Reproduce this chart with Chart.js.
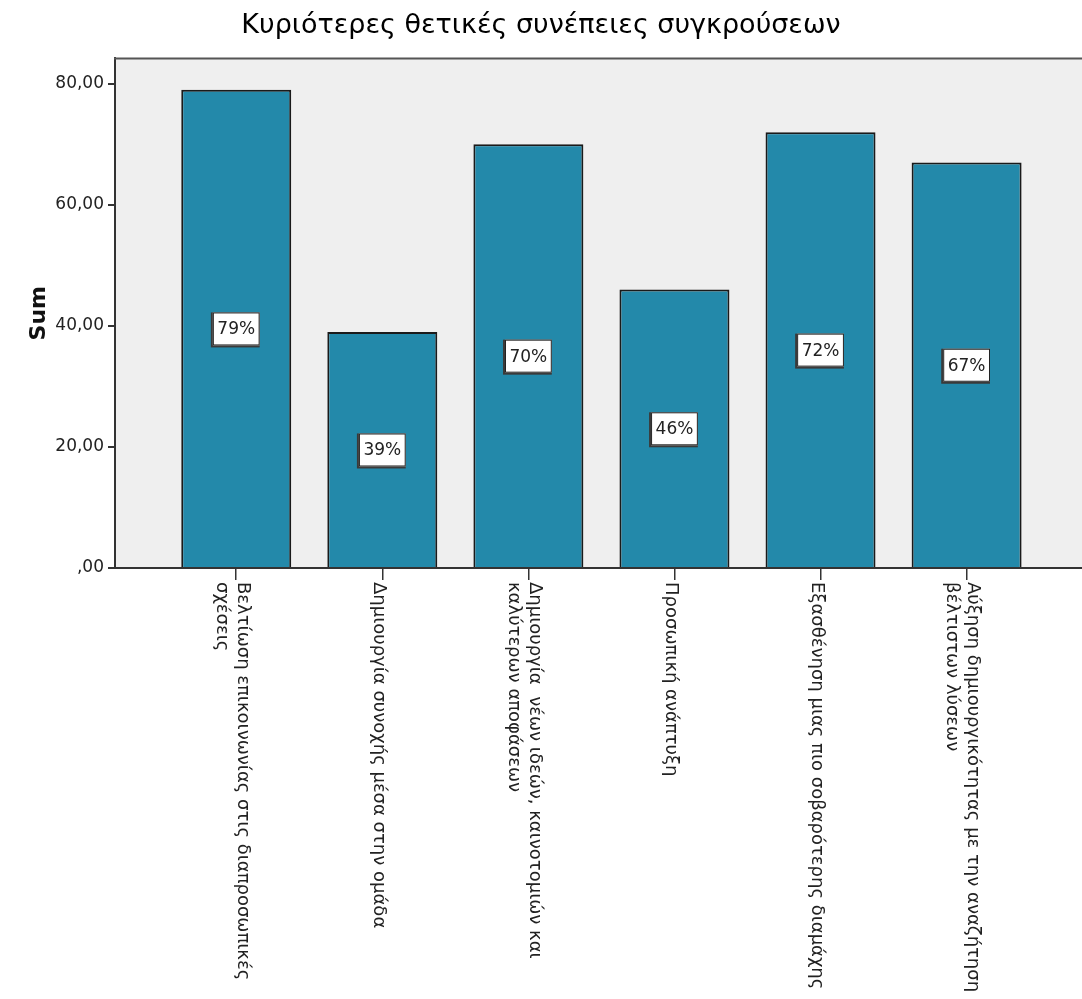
<!DOCTYPE html>
<html>
<head>
<meta charset="utf-8">
<title>Κυριότερες θετικές συνέπειες συγκρούσεων</title>
<script src="https://cdn.jsdelivr.net/npm/chart.js@4/dist/chart.umd.min.js"></script>
<style>
  html, body { margin: 0; padding: 0; background: #fff; }
</style>
</head>
<body>
<canvas id="effects-chart" width="1082" height="999"></canvas>
<script>
// each category is split into the lines it is printed on
const categories = [
  ["Βελτίωση επικοινωνίας στις διαπροσωπικές", "σχέσεις"],
  ["Δημιουργία συνοχής μέσα στην ομάδα"],
  ["Δημιουργία  νέων ιδεών, καινοτομιών και", "καλύτερων αποφάσεων"],
  ["Προσωπική ανάπτυξη"],
  ["Εξασθένηση μιας πιο σοβαρότερης διαμάχης"],
  ["Αύξηση δημιουργικότητας με την αναζήτηση", "βέλτιστων λύσεων"],
];
const sums = [79, 39, 70, 46, 72, 67];
const yTicks = [0, 20, 40, 60, 80];
const yMax = 84.2;

const fontFamily = "'DejaVu Sans', 'Liberation Sans', Arial, sans-serif";
const textColor = "#222";
const axisColor = "#333";

// SPSS style numbers: 80,00 and ,00 for zero
function spssNumber(v) {
  const s = v.toFixed(2).replace(".", ",");
  return v === 0 ? s.slice(1) : s;
}

const plotBackground = {
  id: "plotBackground",
  beforeDraw(chart) {
    const { ctx, chartArea: a } = chart;
    ctx.save();
    ctx.fillStyle = "#efefef";
    ctx.fillRect(a.left, a.top, a.right - a.left, a.bottom - a.top);
    ctx.restore();
  },
  afterDraw(chart) {
    const { ctx, chartArea: a } = chart;
    ctx.save();
    ctx.strokeStyle = "#555";
    ctx.lineWidth = 2;
    ctx.beginPath();
    ctx.moveTo(a.left - 1, a.top);
    ctx.lineTo(a.right, a.top);
    ctx.stroke();
    ctx.restore();
  },
};

// white boxes with the percentage, half way up each bar
const valueBoxes = {
  id: "valueBoxes",
  afterDatasetsDraw(chart) {
    const { ctx } = chart;
    const y = chart.scales.y;
    const bars = chart.getDatasetMeta(0).data;
    ctx.save();
    ctx.font = "17px " + fontFamily;
    ctx.textAlign = "center";
    ctx.textBaseline = "middle";
    bars.forEach((bar, i) => {
      const text = sums[i] + "%";
      const cy = y.getPixelForValue(sums[i] / 2);
      const w = ctx.measureText(text).width + 9;
      const h = 33;
      const left = bar.x - w / 2;
      const top = cy - h / 2;
      ctx.fillStyle = "#3a3a3a";
      ctx.fillRect(left - 2, top, w + 2, h + 2);
      ctx.fillStyle = "#fff";
      ctx.fillRect(left, top, w, h);
      ctx.strokeStyle = "#222";
      ctx.lineWidth = 1;
      ctx.strokeRect(left + 0.5, top + 0.5, w - 1, h - 1);
      ctx.fillStyle = textColor;
      ctx.fillText(text, bar.x, cy + 1);
    });
    ctx.restore();
  },
};

// category names run top to bottom under each tick
const categoryLabels = {
  id: "categoryLabels",
  afterDraw(chart) {
    const { ctx } = chart;
    const x = chart.scales.x;
    const top = chart.chartArea.bottom + 14;
    const lineHeight = 21;
    ctx.save();
    ctx.font = "18px " + fontFamily;
    ctx.fillStyle = textColor;
    ctx.textAlign = "left";
    ctx.textBaseline = "middle";
    categories.forEach((lines, i) => {
      const px = x.getPixelForValue(i) - 4;
      ctx.save();
      ctx.translate(px, top);
      ctx.rotate(Math.PI / 2);
      lines.forEach((line, j) => {
        ctx.fillText(line, 0, (j - (lines.length - 1) / 2) * lineHeight);
      });
      ctx.restore();
    });
    ctx.restore();
  },
};

new Chart(document.getElementById("effects-chart"), {
  type: "bar",
  data: {
    datasets: [
      {
        label: "Sum",
        data: sums.map((v, i) => ({ x: i, y: v })),
        backgroundColor: "#2389aa",
        borderColor: "#1a1a1a",
        borderWidth: 2,
        categoryPercentage: 1,
        barPercentage: 0.753,
      },
    ],
  },
  options: {
    responsive: false,
    animation: false,
    devicePixelRatio: 1,
    layout: { padding: 0 },
    plugins: {
      legend: { display: false },
      tooltip: { enabled: false },
      title: {
        display: true,
        text: "Κυριότερες θετικές συνέπειες συγκρούσεων",
        color: "#000",
        font: { family: fontFamily, size: 27, weight: "normal" },
        padding: { top: 10, bottom: 16 },
      },
    },
    scales: {
      x: {
        type: "linear",
        offset: false,
        min: -0.83,
        max: 5.79,
        afterBuildTicks: (scale) => {
          scale.ticks = categories.map((c, i) => ({ value: i }));
        },
        afterFit: (scale) => {
          scale.height = 431;
        },
        ticks: { display: false },
        grid: {
          offset: false,
          drawOnChartArea: false,
          tickLength: 12,
          color: axisColor,
          lineWidth: 1.5,
        },
        border: { color: axisColor, width: 2 },
      },
      y: {
        min: 0,
        max: yMax,
        afterBuildTicks: (scale) => {
          scale.ticks = yTicks.map((v) => ({ value: v }));
        },
        afterFit: (scale) => {
          scale.width = 115;
        },
        ticks: {
          callback: (v) => spssNumber(v),
          color: textColor,
          font: { family: fontFamily, size: 17 },
          padding: 4,
        },
        grid: {
          drawOnChartArea: false,
          tickLength: 7,
          color: axisColor,
          lineWidth: 2,
        },
        border: { color: axisColor, width: 2 },
        title: {
          display: true,
          text: "Sum",
          color: "#111",
          font: { family: fontFamily, size: 22, weight: "bold" },
          padding: { top: 26, bottom: 0 },
        },
      },
    },
  },
  plugins: [plotBackground, valueBoxes, categoryLabels],
});
</script>
</body>
</html>
